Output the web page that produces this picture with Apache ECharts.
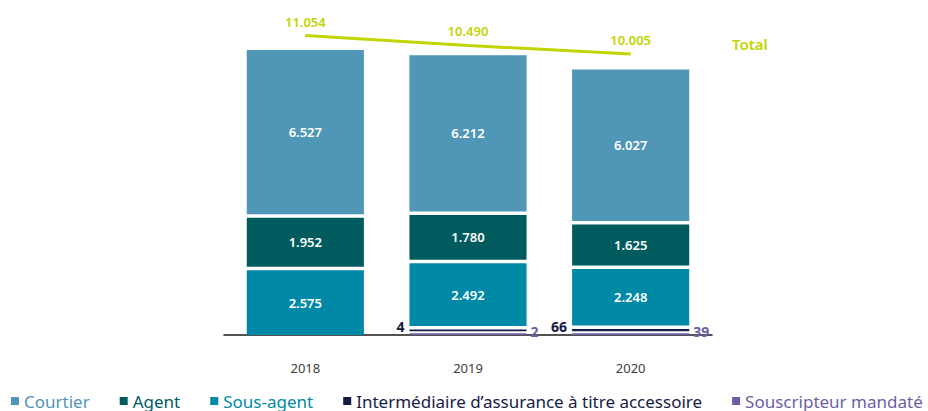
<!DOCTYPE html>
<html>
<head>
<meta charset="utf-8">
<script src="https://cdn.jsdelivr.net/npm/echarts@6/dist/echarts.min.js"></script>
<style>
html,body{margin:0;padding:0;background:#fff;}
#c{width:928px;height:411px;}
</style>
</head>
<body>
<div id="c"></div>
<script>
const categories = ['2018', '2019', '2020'];
const courtier = [6527, 6212, 6027];
const agent = [1952, 1780, 1625];
const sousAgent = [2575, 2492, 2248];
const intermediaire = [0, 4, 66];
const souscripteur = [0, 2, 39];
const totals = [11054, 10490, 10005];
const seriesNames = ['Courtier', 'Agent', 'Sous-agent', 'Intermédiaire d’assurance à titre accessoire', 'Souscripteur mandaté'];
const totalName = 'Total';

const colors = {
  courtier: '#5096b6',
  agent: '#005b5f',
  sousAgent: '#0089a6',
  intermediaire: '#161c45',
  souscripteur: '#6c5fa5',
  total: '#c2d500'
};
const FONT = '"Noto Sans", "Open Sans", sans-serif';

// stack order bottom -> top
const stackArrays = [souscripteur, intermediaire, sousAgent, agent, courtier];
const stackColors = [colors.souscripteur, colors.intermediaire, colors.sousAgent, colors.agent, colors.courtier];

function fmt(v) {
  return String(v).replace(/\B(?=(\d{3})+(?!\d))/g, '.');
}

function layoutStack(ci, s) {
  let y = 0; let prevSmall = null; const res = [];
  for (let k = 0; k < stackArrays.length; k++) {
    const v = stackArrays[k][ci];
    if (!v) { res.push(null); continue; }
    let h = v * s;
    const small = h < 5;
    if (small) h = Math.max(h + 0.6, 1.8);
    if (prevSmall !== null) y += (prevSmall && small) ? 2 : 3.5;
    res.push({ off: y, h: h, small: small });
    y += h; prevSmall = small;
  }
  return res;
}

function makeRender(k) {
  return function (params, api) {
    const ci = params.dataIndex;
    const v = api.value(1);
    if (!v) return null;
    const base = api.coord([ci, 0]);
    const s = api.size([0, 1])[1];
    const bw = api.size([1, 0])[0] * 0.72;
    const seg = layoutStack(ci, s)[k];
    const top = base[1] - seg.off - seg.h;
    const left = base[0] - bw / 2;
    const children = [{
      type: 'rect',
      shape: { x: left, y: top, width: bw, height: seg.h },
      style: { fill: stackColors[k] }
    }];
    let label;
    if (!seg.small) {
      label = { x: base[0], y: top + seg.h / 2, text: fmt(v), fill: '#ffffff', align: 'center', font: '600 13px ' + FONT };
    } else if (k === 1) {
      label = { x: left - 5, y: top + seg.h / 2 - 4, text: fmt(v), fill: colors.intermediaire, align: 'right', font: 'bold 14px ' + FONT };
    } else {
      label = { x: left + bw + 4, y: top + seg.h / 2 - 3, text: fmt(v), fill: colors.souscripteur, align: 'left', font: 'bold 14px ' + FONT };
    }
    children.push({
      type: 'text',
      x: label.x, y: label.y,
      style: {
        text: label.text, fill: label.fill, font: label.font,
        textAlign: label.align, textVerticalAlign: 'middle',
        align: label.align, verticalAlign: 'middle'
      }
    });
    return { type: 'group', children: children };
  };
}

const barSeries = [
  { name: seriesNames[0], arr: courtier, k: 4, color: colors.courtier },
  { name: seriesNames[1], arr: agent, k: 3, color: colors.agent },
  { name: seriesNames[2], arr: sousAgent, k: 2, color: colors.sousAgent },
  { name: seriesNames[3], arr: intermediaire, k: 1, color: colors.intermediaire },
  { name: seriesNames[4], arr: souscripteur, k: 0, color: colors.souscripteur }
].map(function (d) {
  return {
    type: 'custom',
    name: d.name,
    xAxisIndex: 0, yAxisIndex: 0,
    itemStyle: { color: d.color },
    encode: { x: 0, y: 1 },
    data: d.arr.map(function (v, i) { return [i, v]; }),
    renderItem: makeRender(d.k)
  };
});

const chart = echarts.init(document.getElementById('c'), null, { renderer: 'svg' });
chart.setOption({
  animation: false,
  backgroundColor: '#ffffff',
  grid: { left: 224, right: 216, top: 20, bottom: 73 },
  xAxis: {
    type: 'category',
    data: categories,
    axisLine: { lineStyle: { color: '#1a1a1a', width: 1.5 } },
    axisTick: { show: false },
    axisLabel: { color: '#404040', fontSize: 13, margin: 23, fontFamily: FONT }
  },
  yAxis: [
    { type: 'value', min: -120, max: 12524, show: false, splitLine: { show: false } },
    { type: 'value', min: -6179, max: 11941, show: false, splitLine: { show: false } }
  ],
  legend: {
    left: 11, top: 392, padding: 0,
    itemWidth: 8, itemHeight: 8, itemGap: 30,
    icon: 'rect',
    textStyle: { fontSize: 17, lineHeight: 18, fontFamily: FONT },
    data: [
      { name: seriesNames[0], textStyle: { color: colors.courtier } },
      { name: seriesNames[1], textStyle: { color: colors.agent } },
      { name: seriesNames[2], textStyle: { color: colors.sousAgent } },
      { name: seriesNames[3], textStyle: { color: colors.intermediaire } },
      { name: seriesNames[4], textStyle: { color: colors.souscripteur } }
    ]
  },
  graphic: [{
    type: 'text', left: 732, top: 36,
    style: { text: totalName, fill: colors.total, font: '600 15px ' + FONT }
  }],
  series: barSeries.concat([{
    type: 'line',
    name: totalName,
    yAxisIndex: 1,
    data: totals,
    symbol: 'circle', symbolSize: 1,
    lineStyle: { color: colors.total, width: 3 },
    itemStyle: { color: colors.total },
    label: {
      show: true, position: 'top', distance: 7,
      color: colors.total, fontSize: 13, fontWeight: 600, fontFamily: FONT,
      formatter: function (p) { return fmt(p.value); }
    }
  }])
});
</script>
</body>
</html>
